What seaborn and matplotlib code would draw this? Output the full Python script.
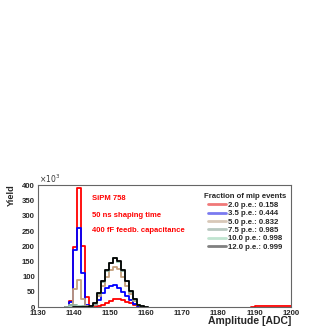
import numpy as np
import pandas as pd
import matplotlib
matplotlib.use("Agg")
import matplotlib.pyplot as plt
from matplotlib.ticker import MultipleLocator
from matplotlib.lines import Line2D
import seaborn as sns

# ---- data (counts in units of 10^3 per bin; 64 bins from 1130 to 1200) ----
x_min, x_max, n_bins = 1130, 1200, 64
series_labels = ["2.0 p.e.: 0.158", "3.5 p.e.: 0.444", "5.0 p.e.: 0.832",
                 "7.5 p.e.: 0.985", "10.0 p.e.: 0.998", "12.0 p.e.: 0.999"]
#                      b0..b7                    b8  b9  b10 b11 b12 b13 b14 b15 b16 b17 b18 b19 b20 b21 b22 b23 b24 b25 b26
counts_2p0  = [0, 0, 0, 0, 0, 0, 0, 0, 20, 198, 392, 200, 34, 4, 1, 3, 8, 14, 20, 25, 26, 22, 17, 12, 7, 4, 2]
counts_3p5  = [0, 0, 0, 0, 0, 0, 0, 0, 15, 187, 261, 112, 8, 1, 7, 23, 46, 62, 70, 72, 64, 50, 36, 23, 10, 3, 0]
counts_5p0  = [0, 0, 0, 0, 0, 0, 0, 0, 5, 58, 88, 28, 2, 0, 8, 35, 68, 100, 122, 133, 124, 100, 70, 42, 20, 6, 1]
counts_7p5  = [0, 0, 0, 0, 0, 0, 0, 0, 6, 8, 4, 2, 0, 2, 11, 44, 83, 120, 144, 160, 148, 120, 85, 51, 24, 8, 2]
counts_10p0 = [0, 0, 0, 0, 0, 0, 0, 0, 0, 1, 2, 0, 0, 3, 12, 45, 85, 122, 145, 162, 149, 121, 86, 52, 25, 8, 2]
counts_12p0 = [0, 0, 0, 0, 0, 0, 0, 0, 0, 0, 1, 0, 0, 3, 12, 45, 85, 122, 146, 163, 150, 122, 86, 52, 25, 8, 2]
# small red tail in bins 55..63
red_tail_start = 55
red_tail = [2, 2, 2, 2, 2, 2, 2, 2, 2]

text_lines = ["SiPM 758", "50 ns shaping time", "400 fF feedb. capacitance"]
legend_title = "Fraction of mip events"

line_colors = ["#ff0000", "#0000ff", "#c4a07c", "#8fb0a0", "#a8d8c0", "#000000"]
legend_colors = ["#f07878", "#7a7af0", "#d8c8b8", "#b8c8c0", "#c0e4d0", "#808080"]

# ---- build table ----
edges = np.linspace(x_min, x_max, n_bins + 1)
centers = 0.5 * (edges[:-1] + edges[1:])
all_counts = [counts_2p0, counts_3p5, counts_5p0, counts_7p5, counts_10p0, counts_12p0]
rows = []
for lab, cnt in zip(series_labels, all_counts):
    for i, v in enumerate(cnt):
        rows.append({"series": lab, "bin": i, "adc": centers[i], "count": v})
for j, v in enumerate(red_tail):
    i = red_tail_start + j
    rows.append({"series": series_labels[0] + " tail", "bin": i, "adc": centers[i], "count": v})
df = pd.DataFrame(rows)

# ---- plot ----
sns.set_style("white")
plt.rcParams["font.family"] = ["Liberation Sans", "DejaVu Sans"]

fig = plt.figure(figsize=(3.27, 3.27), dpi=100)
ax = fig.add_axes([37.7 / 327, 20 / 327, 253 / 327, 122 / 327])

draw_groups = [(series_labels[0] + " tail", line_colors[0])] + list(zip(series_labels, line_colors))
for lab, col in draw_groups:
    sub = df[df["series"] == lab]
    nz = sub[sub["count"] > 0]["bin"]
    b0 = max(int(nz.min()) - 1, 0)
    b1 = min(int(nz.max()) + 2, n_bins)
    sub = sub[(sub["bin"] >= b0) & (sub["bin"] < b1)]
    sns.histplot(data=sub, x="adc", weights="count", bins=[float(e) for e in edges[b0:b1 + 1]],
                 element="step", fill=False, color=col, linewidth=1.3, ax=ax, zorder=2)

ax.set_xlim(x_min, x_max)
ax.set_ylim(0, 402)
ax.set_xlabel("")
ax.set_ylabel("")

for s in ax.spines.values():
    s.set_color("#666666")
    s.set_linewidth(0.8)
    s.set_zorder(3)
    s.set_visible(True)

ax.xaxis.set_major_locator(MultipleLocator(10))
ax.xaxis.set_minor_locator(MultipleLocator(2))
ax.yaxis.set_major_locator(MultipleLocator(50))
ax.yaxis.set_minor_locator(MultipleLocator(10))
ax.tick_params(axis="both", which="major", direction="in", length=4, width=0.6,
               color="#666666", labelsize=5.6, pad=2)
ax.tick_params(axis="both", which="minor", direction="in", length=2, width=0.5,
               color="#666666")
ax.tick_params(top=False, right=False, which="both")
for lbl in ax.get_xticklabels() + ax.get_yticklabels():
    lbl.set_fontweight("bold")

fig.text(291 / 327, 1 - 321 / 327, "Amplitude [ADC]", ha="right", va="center",
         fontsize=7.5, fontweight="bold")
fig.text(11.5 / 327, 1 - 184 / 327, "Yield", rotation=90, ha="center", va="top",
         fontsize=6.6, fontweight="bold")
ax.text(0.005, 1.0, r"$\times10^{3}$", transform=ax.transAxes, ha="left", va="bottom",
        fontsize=5.5, color="#333333")

for t, y in zip(text_lines, [0.893, 0.754, 0.623]):
    ax.text(0.2146, y, t, transform=ax.transAxes, color="red", fontsize=5.5,
            fontweight="bold", ha="left", va="center")

handles = [Line2D([], [], color=c, linewidth=2.0) for c in legend_colors]
leg = ax.legend(handles, series_labels, title=legend_title, loc="upper left",
                bbox_to_anchor=(204 / 327, 1 - 193.5 / 327), bbox_transform=fig.transFigure,
                frameon=False, borderpad=0, labelspacing=0.12, handlelength=2.3,
                handletextpad=0.35, borderaxespad=0,
                prop={"family": "Liberation Sans", "weight": "bold", "size": 5.6},
                title_fontproperties={"family": "Liberation Sans", "weight": "bold", "size": 5.6})
leg._legend_box.align = "center"

fig.savefig("out.png", dpi=100)
